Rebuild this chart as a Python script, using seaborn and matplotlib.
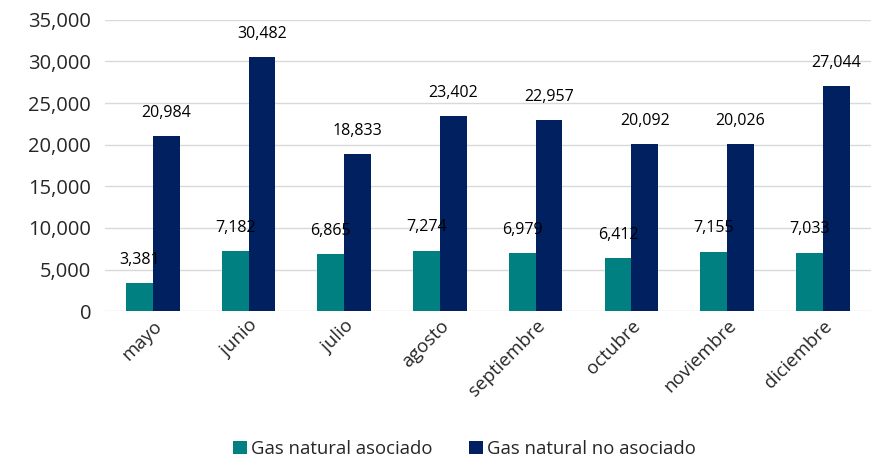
import pandas as pd
import matplotlib.pyplot as plt
import seaborn as sns

meses = ["mayo", "junio", "julio", "agosto", "septiembre", "octubre", "noviembre", "diciembre"]
asociado = [3381, 7182, 6865, 7274, 6979, 6412, 7155, 7033]
no_asociado = [20984, 30482, 18833, 23402, 22957, 20092, 20026, 27044]
series = ["Gas natural asociado", "Gas natural no asociado"]
colores = ["#008080", "#002060"]

df = pd.DataFrame({
    "mes": meses * 2,
    "serie": [series[0]] * len(meses) + [series[1]] * len(meses),
    "valor": asociado + no_asociado,
})

sns.set_style("white")
plt.rcParams["font.family"] = ["Open Sans", "DejaVu Sans"]

fig, ax = plt.subplots(figsize=(8.75, 4.61), dpi=100)
fig.subplots_adjust(left=0.12, right=0.995, top=0.957, bottom=0.325)

sns.barplot(data=df, x="mes", y="valor", hue="serie", palette=colores,
            width=0.56, saturation=1, linewidth=0, ax=ax, legend=True)

for cont in ax.containers:
    ax.bar_label(cont, labels=[f"{v:,.0f}" for v in cont.datavalues],
                 padding=11, fontsize=11.5, color="black")

ax.set_ylim(0, 35000)
ax.set_yticks(range(0, 35001, 5000))
ax.yaxis.set_major_formatter(plt.FuncFormatter(lambda v, p: f"{v:,.0f}"))
ax.grid(axis="y", color="#D9D9D9", linewidth=1)
ax.set_axisbelow(True)
ax.set_xlabel("")
ax.set_ylabel("")
ax.tick_params(axis="y", labelsize=14.5, length=0, pad=10)
ax.tick_params(axis="x", labelsize=13.5, length=0, pad=4)
plt.setp(ax.get_xticklabels(), rotation=45, ha="right", rotation_mode="anchor")
for s in ax.spines.values():
    s.set_visible(False)
ax.set_xlim(-0.5, len(meses) - 0.5)

h, l = ax.get_legend_handles_labels()
ax.get_legend().remove()
fig.legend(h, l, loc="center", bbox_to_anchor=(0.531, 0.026), ncol=2, frameon=False,
           fontsize=13.3, handlelength=0.75, handleheight=0.75, columnspacing=2.0,
           handletextpad=0.2)

fig.savefig("out.png", dpi=100)
